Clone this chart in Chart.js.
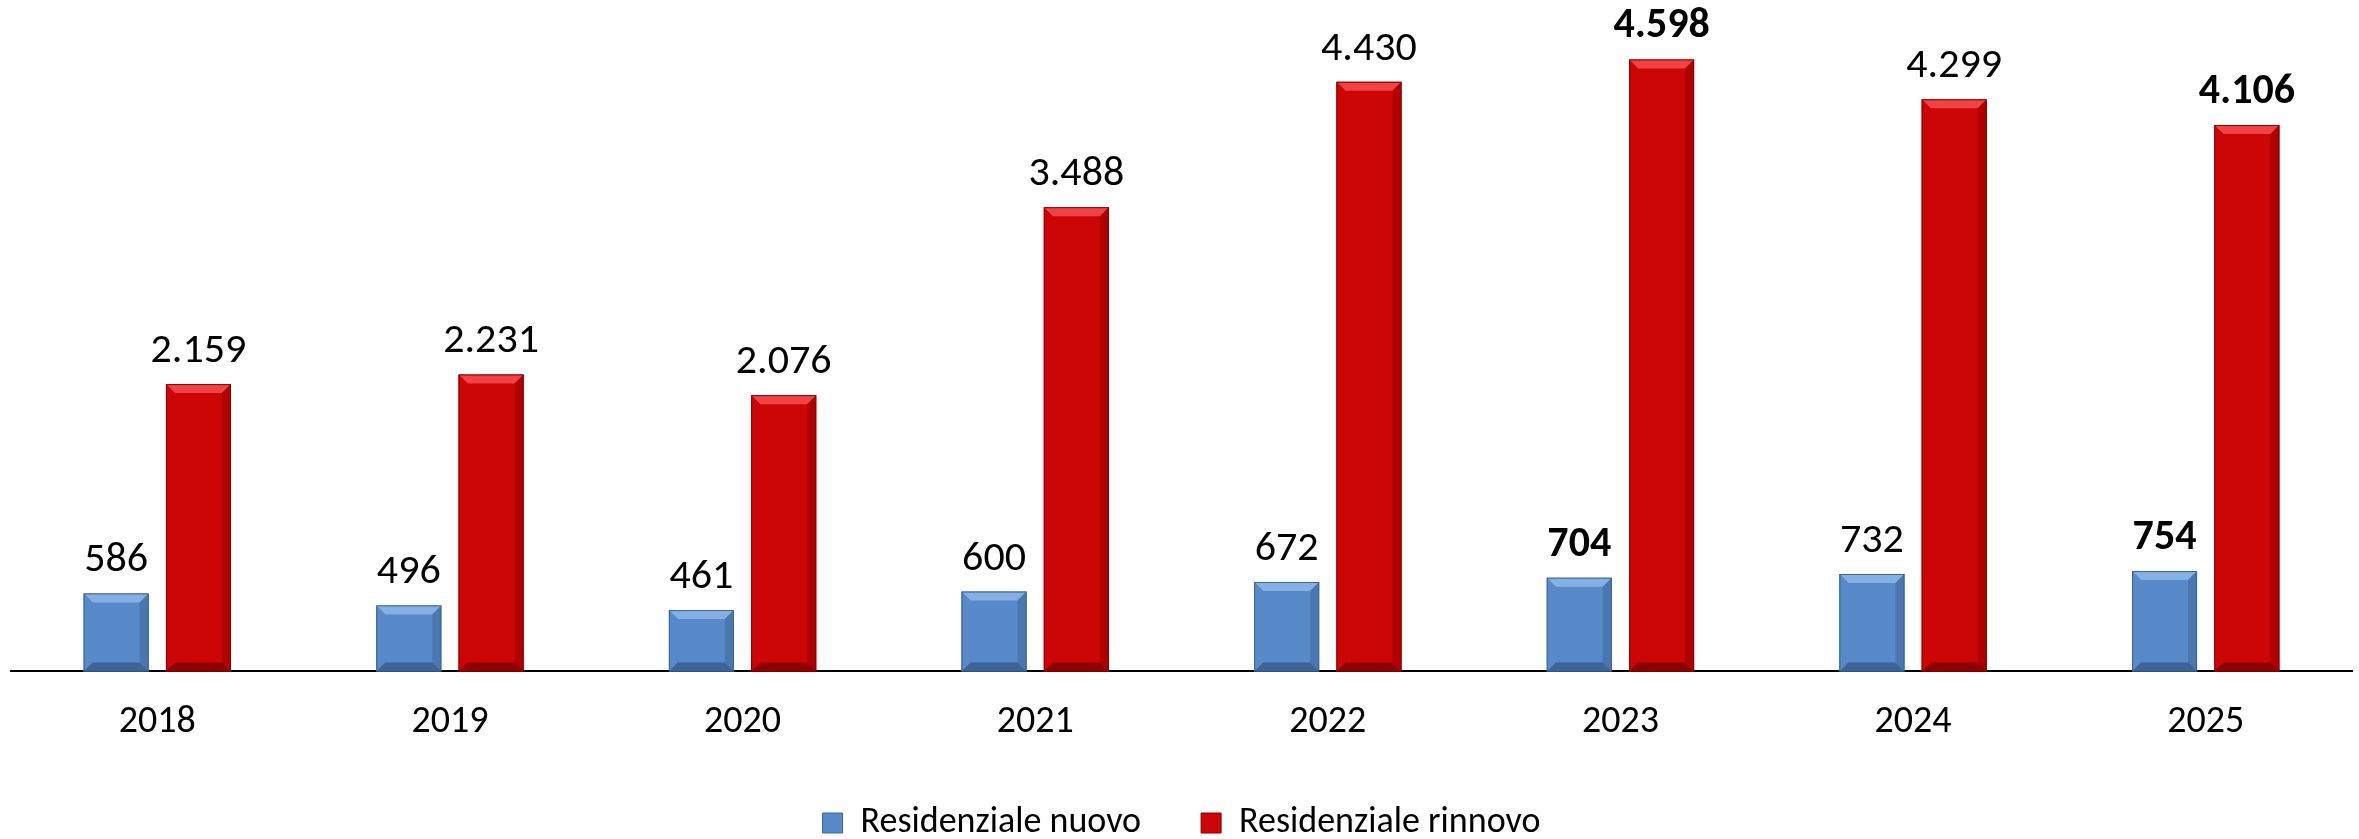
<!DOCTYPE html>
<html>
<head>
<meta charset="utf-8">
<script src="https://cdn.jsdelivr.net/npm/chart.js@4.4.1/dist/chart.umd.min.js"></script>
<style>
  html, body { margin: 0; padding: 0; background: #fff; }
  #wrap { width: 2359px; height: 839px; position: relative; }
</style>
</head>
<body>
<div id="wrap"><canvas id="chart"></canvas></div>
<script>
const years = ['2018', '2019', '2020', '2021', '2022', '2023', '2024', '2025'];
const nuovo = [586, 496, 461, 600, 672, 704, 732, 754];
const rinnovo = [2159, 2231, 2076, 3488, 4430, 4598, 4299, 4106];
const seriesNames = ['Residenziale nuovo', 'Residenziale rinnovo'];
// labels printed in bold in the source
const boldNuovo = ['2023', '2025'];
const boldRinnovo = ['2023', '2025'];

const FONT = 'Carlito, Lato, sans-serif';

const palette = [
    { face: '#5889c8', light: '#86b0e4', dark: '#3b6498', side: '#4a77b0' },
    { face: '#cc0606', light: '#f04444', dark: '#8e0000', side: '#b00000' }
];

function fmt(v) {
    return String(v).replace(/\B(?=(\d{3})+(?!\d))/g, '.');
}

// bevel look like the office chart
const bevelPlugin = {
    id: 'bevel',
    afterDatasetDraw(chart, args) {
        const ctx = chart.ctx;
        const meta = args.meta;
        const c = palette[args.index];
        const b = 9;
        meta.data.forEach(bar => {
            const x0 = bar.x - bar.width / 2;
            const x1 = bar.x + bar.width / 2;
            const y0 = bar.y;
            const y1 = bar.base;
            ctx.save();
            ctx.fillStyle = c.light;
            ctx.beginPath();
            ctx.moveTo(x0, y0); ctx.lineTo(x1, y0); ctx.lineTo(x1 - b, y0 + b); ctx.lineTo(x0 + b, y0 + b);
            ctx.closePath(); ctx.fill();
            ctx.fillStyle = c.face;
            ctx.beginPath();
            ctx.moveTo(x0, y0); ctx.lineTo(x0 + b, y0 + b); ctx.lineTo(x0 + b, y1 - b); ctx.lineTo(x0, y1);
            ctx.closePath(); ctx.fill();
            ctx.fillStyle = c.side;
            ctx.beginPath();
            ctx.moveTo(x1, y0); ctx.lineTo(x1 - b, y0 + b); ctx.lineTo(x1 - b, y1 - b); ctx.lineTo(x1, y1);
            ctx.closePath(); ctx.fill();
            ctx.fillStyle = c.dark;
            ctx.beginPath();
            ctx.moveTo(x0, y1); ctx.lineTo(x1, y1); ctx.lineTo(x1 - b, y1 - b); ctx.lineTo(x0 + b, y1 - b);
            ctx.closePath(); ctx.fill();
            ctx.strokeStyle = c.dark;
            ctx.lineWidth = 1;
            ctx.strokeRect(x0 + 0.5, y0 + 0.5, x1 - x0 - 1, y1 - y0 - 1);
            ctx.restore();
        });
    }
};

const valueLabels = {
    id: 'valueLabels',
    afterDatasetsDraw(chart) {
        const ctx = chart.ctx;
        const boldSets = [boldNuovo, boldRinnovo];
        chart.data.datasets.forEach((ds, i) => {
            const meta = chart.getDatasetMeta(i);
            meta.data.forEach((bar, j) => {
                const bold = boldSets[i].includes(years[j]);
                ctx.save();
                ctx.font = (bold ? 'bold ' : '') + '42px ' + FONT;
                ctx.fillStyle = '#000';
                ctx.textAlign = 'center';
                ctx.textBaseline = 'alphabetic';
                ctx.fillText(fmt(ds.data[j]), bar.x, bar.y - 22);
                ctx.restore();
            });
        });
    }
};

const ctx = document.getElementById('chart').getContext('2d');
new Chart(ctx, {
    type: 'bar',
    data: {
        labels: years,
        datasets: [
            {
                label: seriesNames[0],
                data: nuovo,
                backgroundColor: palette[0].face,
                borderWidth: 0
            },
            {
                label: seriesNames[1],
                data: rinnovo,
                backgroundColor: palette[1].face,
                borderWidth: 0
            }
        ]
    },
    options: {
        responsive: true,
        maintainAspectRatio: false,
        animation: false,
        categoryPercentage: 0.5625,
        barPercentage: 0.79,
        layout: {
            padding: { top: 6, left: 11, right: 7, bottom: -12 }
        },
        plugins: {
            legend: {
                position: 'bottom',
                labels: {
                    font: { family: FONT, size: 36 },
                    color: '#000',
                    boxWidth: 20,
                    boxHeight: 20,
                    padding: 60,
                    generateLabels: (chart) => chart.data.datasets.map((ds, i) => ({
                        text: ds.label,
                        fillStyle: palette[i].face,
                        strokeStyle: palette[i].dark,
                        lineWidth: 1,
                        datasetIndex: i
                    }))
                }
            },
            tooltip: { enabled: false }
        },
        scales: {
            x: {
                grid: { display: false, drawTicks: false },
                border: { display: true, color: '#000', width: 2 },
                ticks: {
                    color: '#000',
                    font: { family: FONT, size: 38 },
                    padding: 28
                },
                afterFit: (axis) => { axis.height -= 28; }
            },
            y: {
                display: false,
                min: 0,
                max: 5000
            }
        }
    },
    plugins: [bevelPlugin, valueLabels]
});
</script>
</body>
</html>
